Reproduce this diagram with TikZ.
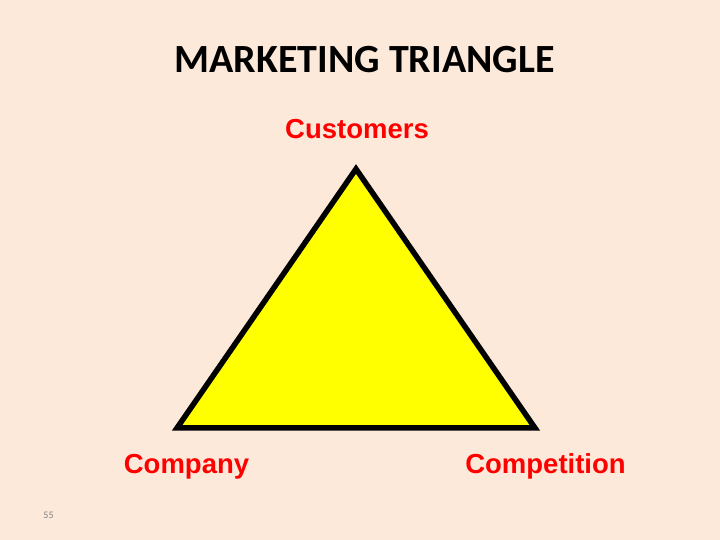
\documentclass[tikz,border=0pt]{standalone}
\usepackage{fontspec}
\setmainfont{Liberation Sans}
\newfontfamily\titlefont{Carlito}
\usetikzlibrary{positioning}

\definecolor{slidebg}{HTML}{FDE9D9}
\definecolor{labelred}{HTML}{FF0000}
\definecolor{triyellow}{HTML}{FFFF00}
\definecolor{pagegray}{HTML}{7F7F7F}

\tikzset{
  corner label/.style={text=labelred, anchor=base, inner sep=0pt,
    font=\bfseries\fontsize{27.5}{33}\selectfont},
  triangle line/.style={fill=triyellow, draw=black, line width=5.5pt},
}

\begin{document}
\begin{tikzpicture}[x=1pt,y=1pt]
    \fill[slidebg] (0,0) rectangle (720,540);
    \useasboundingbox (0,0) rectangle (720,540);
    \node[anchor=base, inner sep=0pt,
    font=\titlefont\bfseries\fontsize{40}{48}\selectfont] (title) at (364.5,467) {MARKETING TRIANGLE};%
    % corners of the triangle
    \coordinate (apex) at (356,371);
    \coordinate (leftcorner) at (177,112);
    \coordinate (rightcorner) at (535,112);
    \filldraw[triangle line] (apex) -- (leftcorner) -- (rightcorner) -- cycle;
    \node[corner label] (customers) at (357,401) {Customers};
    \node[corner label] (company) at (186.5,66) {Company};
    \node[corner label] (competition) at (545.5,66) {Competition};
    \node[anchor=base, inner sep=0pt, text=pagegray,
    font=\titlefont\fontsize{10}{12}\selectfont] (pagenum) at (48.5,21) {55};
  \end{tikzpicture}
\end{document}
